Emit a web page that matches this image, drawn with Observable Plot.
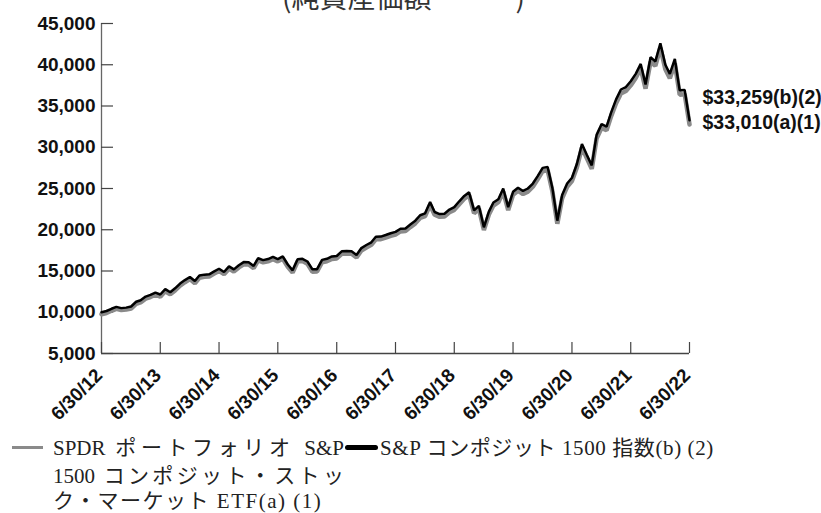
<!DOCTYPE html>
<html><head><meta charset="utf-8">
<script src="https://cdn.jsdelivr.net/npm/d3@7"></script>
<script src="https://cdn.jsdelivr.net/npm/@observablehq/plot@0.6"></script>
<style>
body{margin:0;background:#fff;}
#wrap{position:relative;width:821px;height:513px;overflow:hidden;background:#fff;}
#title{position:absolute;z-index:2;left:282px;top:-18px;font-family:"Noto Sans CJK JP";font-size:28px;line-height:28px;color:#333;white-space:pre;}
#chart{position:absolute;z-index:1;left:0;top:0;}
.leg{position:absolute;z-index:2;font-family:"Liberation Serif","Noto Sans CJK JP",serif;font-size:21px;line-height:28px;color:#222;white-space:nowrap;}
.j{text-align:justify;text-align-last:justify;}
.sw{position:absolute;z-index:2;}
</style>
</head><body>
<div id="wrap">
  <div id="title"></div>
  <div id="chart"></div>
</div>
<script>
// ---- data (month-end values, 6/30/12 .. 6/30/22) ----
const indexValues = [
10000,10150,10420,10650,10500,10560,10700,11270,11450,11900,12100,12380,
12150,12800,12420,12900,13480,13900,14280,13780,14450,14560,14600,14950,
15270,14880,15560,15200,15700,16080,16070,15620,16550,16320,16450,16720,
16450,16760,15790,15080,16430,16480,16150,15200,15220,16350,16480,16760,
16820,17380,17420,17400,16950,17780,18150,18480,19150,19170,19360,19580,
19740,20120,20160,20640,21100,21760,21990,23350,22150,21900,21950,22450,
22750,23450,24100,24550,22350,22900,20300,22200,23300,23700,25000,22750,
24600,25100,24700,25000,25600,26500,27500,27600,25100,21100,24200,25600,
26300,28000,30400,29100,27800,31500,32800,32500,34200,35800,37000,37300,
38000,38900,40100,37600,40900,40400,42600,40000,38900,40700,36900,36950,
33259];
const fundValues = [
10000,10150,10420,10650,10500,10560,10700,11260,11440,11890,12090,12370,
12140,12790,12410,12890,13470,13880,14260,13760,14430,14540,14580,14930,
15250,14860,15530,15170,15670,16050,16040,15590,16520,16290,16410,16680,
16410,16720,15750,15040,16390,16440,16110,15160,15180,16300,16430,16710,
16770,17330,17370,17340,16890,17720,18090,18420,19080,19100,19290,19510,
19670,20040,20080,20560,21020,21670,21900,23250,22060,21810,21860,22350,
22650,23340,23990,24440,22240,22790,20200,22090,23180,23580,24870,22630,
24470,24970,24570,24860,25460,26350,27340,27440,24950,20970,24050,25440,
26140,27830,30220,28920,27630,31300,32590,32290,33980,35570,36760,37060,
37740,38630,39820,37340,40610,40110,42300,39710,38610,40400,36620,36670,
33010];
const seriesNames = ["SPDR ポートフォリオ S&P 1500 コンポジット・ストック・マーケット ETF(a) (1)", "S&P コンポジット 1500 指数(b) (2)"];
const legendLines1 = ["SPDR ポートフォリオ S&P", "1500 コンポジット・ストッ", "ク・マーケット ETF(a) (1)"];
const endLabels = ["$33,259(b)(2)", "$33,010(a)(1)"];
const xTickLabels = ["6/30/12","6/30/13","6/30/14","6/30/15","6/30/16","6/30/17","6/30/18","6/30/19","6/30/20","6/30/21","6/30/22"];
const yTicks = [5000,10000,15000,20000,25000,30000,35000,40000,45000];
const yTickLabels = ["5,000","10,000","15,000","20,000","25,000","30,000","35,000","40,000","45,000"];
const titleText = "(純資産価額\u3000\u3000\u3000)";

// ---- build ----
const dates = indexValues.map((_, i) => new Date(Date.UTC(2012, 6 + i, 0)));
const indexData = indexValues.map((v, i) => ({date: dates[i], value: v}));
const fundData = fundValues.map((v, i) => ({date: dates[i], value: v}));
const xTicks = xTickLabels.map((_, i) => new Date(Date.UTC(2012 + i, 5, 30)));
const last = dates.length - 1;

const labelFont = {fontSize: 19, fontWeight: "bold", fill: "#111"};

const chart = Plot.plot({
  width: 821, height: 440,
  marginLeft: 101, marginRight: 132, marginTop: 23, marginBottom: 87,
  x: {type: "utc", domain: [xTicks[0], xTicks[xTicks.length - 1]], axis: null},
  y: {domain: [5000, 45000], axis: null},
  style: {fontFamily: "'Liberation Sans', Arial, sans-serif", background: "transparent", overflow: "visible"},
  marks: [
    Plot.ruleX([xTicks[0]], {stroke: "#666", strokeWidth: 1.3}),
    Plot.ruleY([5000], {stroke: "#444", strokeWidth: 1.3}),
    Plot.tickY(yTicks, {y: d => d, stroke: "#444", strokeWidth: 1.2, insetRight: 576}),
    Plot.tickX(xTicks, {x: d => d, stroke: "#444", strokeWidth: 1.2, insetTop: 319}),
    Plot.text(yTicks, {y: d => d, text: (d, i) => yTickLabels[i], frameAnchor: "left", textAnchor: "end", dx: -6, ...labelFont}),
    Plot.text(xTicks, {x: d => d, text: (d, i) => xTickLabels[i], frameAnchor: "bottom", textAnchor: "end", lineAnchor: "bottom", rotate: -45, dx: 2, dy: 23, ...labelFont}),
    Plot.line(fundData, {x: "date", y: "value", stroke: "#8a8a8a", strokeWidth: 4.5, dy: 2, strokeLinejoin: "miter"}),
    Plot.line(indexData, {x: "date", y: "value", stroke: "#000", strokeWidth: 2.5, strokeLinejoin: "miter"}),
    Plot.text([0], {x: [dates[last]], y: [indexValues[last]], text: [endLabels[0]], textAnchor: "start", dx: 13, dy: -23, ...labelFont, fontSize: 19.5}),
    Plot.text([0], {x: [dates[last]], y: [fundValues[last]], text: [endLabels[1]], textAnchor: "start", dx: 13, dy: 0, ...labelFont, fontSize: 19.5})
  ]
});
document.getElementById("chart").appendChild(chart);
document.getElementById("title").textContent = titleText;

// ---- legend ----
const wrap = document.getElementById("wrap");
const sw1 = document.createElement("div");
sw1.className = "sw";
Object.assign(sw1.style, {left: "12px", top: "446px", width: "31px", height: "3px", background: "#8a8a8a"});
wrap.appendChild(sw1);
const l1 = document.createElement("div");
l1.className = "leg";
Object.assign(l1.style, {left: "53px", top: "434px", width: "291px"});
legendLines1.forEach((t, i) => {
  const d = document.createElement("div");
  if (i < legendLines1.length - 1) d.className = "j";
  else { d.style.letterSpacing = "1.5px"; d.style.lineHeight = "22px"; }
  d.textContent = t;
  l1.appendChild(d);
});
l1.title = seriesNames[0];
wrap.appendChild(l1);
const sw2 = document.createElement("div");
sw2.className = "sw";
Object.assign(sw2.style, {left: "345px", top: "445px", width: "33px", height: "5px", background: "#000", borderRadius: "3px"});
wrap.appendChild(sw2);
const l2 = document.createElement("div");
l2.className = "leg";
Object.assign(l2.style, {left: "380px", top: "434px", letterSpacing: "0.6px"});
l2.textContent = seriesNames[1];
wrap.appendChild(l2);
</script>
</body></html>
